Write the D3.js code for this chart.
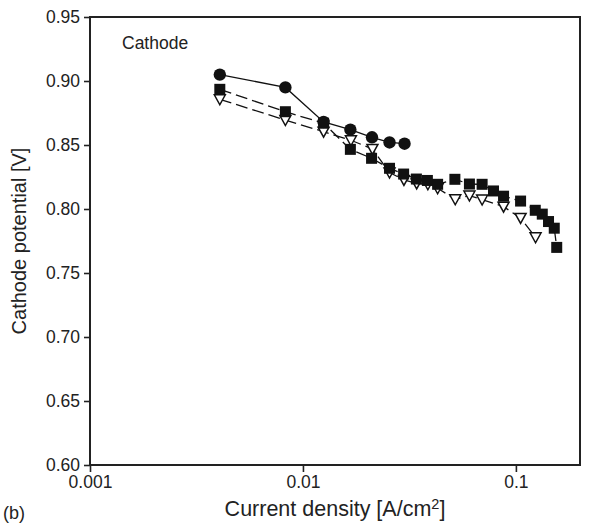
<!DOCTYPE html>
<html>
<head>
<meta charset="utf-8">
<script src="https://cdn.jsdelivr.net/npm/d3@7"></script>
<style>
  body { margin: 0; background: #fff; }
  svg text { font-family: "Liberation Sans", Arial, Helvetica, sans-serif; fill: #222; }
</style>
</head>
<body>
<svg width="594" height="526"></svg>
<script>
// data (current density in A/cm2, potential in V)
const circleX = [0.00407, 0.00827, 0.0125, 0.0167, 0.0211, 0.0255, 0.0300];
const circleY = [0.905, 0.895, 0.868, 0.862, 0.856, 0.852, 0.851];

const squareX = [0.00407, 0.00827, 0.0125, 0.0167, 0.0210, 0.0255, 0.0297, 0.0341, 0.0384, 0.0429,
                 0.0517, 0.0605, 0.0694, 0.0785, 0.0875, 0.1052, 0.1233, 0.1330, 0.1423, 0.1514, 0.1555];
const squareY = [0.8935, 0.876, 0.867, 0.8466, 0.8396, 0.8318, 0.8273, 0.8234, 0.8223, 0.8193,
                 0.8232, 0.8195, 0.8193, 0.8141, 0.810, 0.8062, 0.799, 0.796, 0.7902, 0.785, 0.770];

const triX = [0.00407, 0.00827, 0.0125, 0.0168, 0.0212, 0.0255, 0.0298, 0.0342, 0.0386, 0.0429,
              0.0519, 0.0605, 0.0694, 0.0875, 0.1052, 0.1237];
const triY = [0.8857, 0.8695, 0.8604, 0.8537, 0.8469, 0.8285, 0.8227, 0.820, 0.8193, 0.8162,
              0.8076, 0.8105, 0.8074, 0.8018, 0.793, 0.7779];

const xTicks = [0.001, 0.01, 0.1];
const xTickLabels = ['0.001', '0.01', '0.1'];
const yTicks = [0.60, 0.65, 0.70, 0.75, 0.80, 0.85, 0.90, 0.95];

const zip = (xs, ys) => xs.map((x, i) => ({x: x, y: ys[i]}));
const circles = zip(circleX, circleY);
const squares = zip(squareX, squareY);
const tris = zip(triX, triY);

const plotLeft = 90, plotTop = 17, plotRight = 580, plotBottom = 465;

const svg = d3.select('svg');

const xScale = d3.scaleLog().domain([0.001, 0.2]).range([plotLeft, plotRight]);
const yScale = d3.scaleLinear().domain([0.60, 0.95]).range([plotBottom, plotTop]);

// axes
const xAxis = svg.append('g')
  .attr('transform', 'translate(0,' + plotBottom + ')')
  .call(d3.axisBottom(xScale).tickValues(xTicks)
    .tickFormat((d, i) => xTickLabels[i]).tickSize(7).tickPadding(4));

const yAxis = svg.append('g')
  .attr('transform', 'translate(' + plotLeft + ',0)')
  .call(d3.axisLeft(yScale).tickValues(yTicks)
    .tickFormat(d3.format('.2f')).tickSize(6).tickPadding(4));

[xAxis, yAxis].forEach(ax => {
  ax.select('.domain').remove();
  ax.selectAll('.tick line').attr('stroke', '#222').attr('stroke-width', 1.6);
  ax.selectAll('.tick text').attr('font-size', 17.5).style('fill', '#222');
});

// frame
svg.append('rect')
  .attr('x', plotLeft).attr('y', plotTop)
  .attr('width', plotRight - plotLeft).attr('height', plotBottom - plotTop)
  .attr('fill', 'none').attr('stroke', '#222').attr('stroke-width', 2);

// lines
const line = d3.line().x(d => xScale(d.x)).y(d => yScale(d.y));

svg.append('path').datum(tris).attr('d', line)
  .attr('fill', 'none').attr('stroke', '#111').attr('stroke-width', 1.3)
  .attr('stroke-dasharray', '12,5');

svg.append('path').datum(squares).attr('d', line)
  .attr('fill', 'none').attr('stroke', '#111').attr('stroke-width', 1.3)
  .attr('stroke-dasharray', '12,5');

svg.append('path').datum(circles).attr('d', line)
  .attr('fill', 'none').attr('stroke', '#111').attr('stroke-width', 1.3);

// markers
svg.selectAll('.tri').data(tris).enter().append('path')
  .attr('class', 'tri')
  .attr('d', 'M-5.5,-4.5L5.5,-4.5L0,5.5Z')
  .attr('transform', d => 'translate(' + xScale(d.x) + ',' + yScale(d.y) + ')')
  .attr('fill', '#fff').attr('stroke', '#111').attr('stroke-width', 1.5);

svg.selectAll('.sq').data(squares).enter().append('rect')
  .attr('class', 'sq')
  .attr('x', d => xScale(d.x) - 5.5).attr('y', d => yScale(d.y) - 5.5)
  .attr('width', 11).attr('height', 11)
  .attr('fill', '#111');

svg.selectAll('.circ').data(circles).enter().append('circle')
  .attr('class', 'circ')
  .attr('cx', d => xScale(d.x)).attr('cy', d => yScale(d.y))
  .attr('r', 6.2)
  .attr('fill', '#111');

// labels
svg.append('text').attr('x', 122).attr('y', 49).attr('font-size', 17.5).text('Cathode');

const xt = svg.append('text').attr('x', 335).attr('y', 516)
  .attr('text-anchor', 'middle').attr('font-size', 21.5);
xt.append('tspan').text('Current density [A/cm');
xt.append('tspan').attr('font-size', 14.5).attr('dy', -7).text('2');
xt.append('tspan').attr('dy', 7).text(']');

svg.append('text')
  .attr('transform', 'translate(26,' + 241 + ') rotate(-90)')
  .attr('text-anchor', 'middle').attr('font-size', 20)
  .text('Cathode potential [V]');

svg.append('text').attr('x', 3).attr('y', 519).attr('font-size', 18).text('(b)');
</script>
</body>
</html>
